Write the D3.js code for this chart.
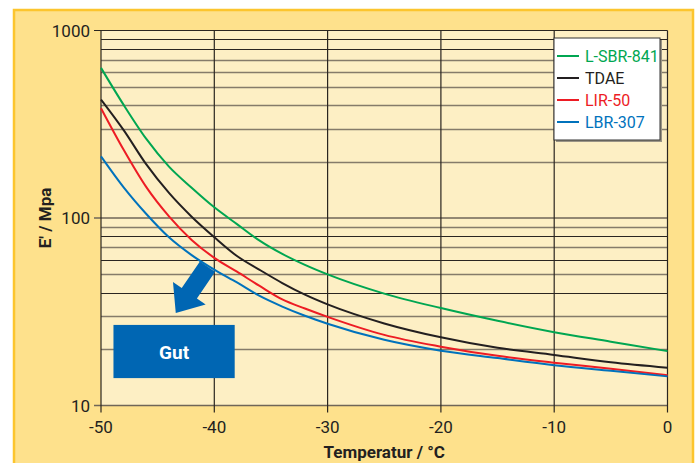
<!DOCTYPE html>
<html lang="de">
<head>
<meta charset="UTF-8">
<title>E' / Mpa vs Temperatur</title>
<script src="https://d3js.org/d3.v7.min.js"></script>
<style>
    body { margin: 0; background: #fff; }
    text { font-family: "Liberation Sans Narrow", Roboto, "Noto Sans", sans-serif; }
</style>
</head>
<body>
<svg id="chart"></svg>
<script>
// data
const temps = [-50, -48, -46, -44, -42, -40, -38, -36, -34, -32, -30, -25, -20, -15, -10, -5, 0];
const lsbr841 = [632, 401, 264, 188, 145, 114, 92.8, 75.7, 64.3, 56.2, 50, 39.5, 33.1, 28.3, 24.6, 21.9, 19.5];
const tdae    = [428, 294, 193, 136, 101.6, 79, 62.7, 52.9, 45, 39, 34.6, 27.4, 23.1, 20.3, 18.6, 17.0, 15.9];
const lir50   = [385, 231, 146, 102, 76.4, 61.3, 51.7, 43.4, 36.8, 32.9, 29.7, 23.8, 20.6, 18.4, 16.9, 15.7, 14.5];
const lbr307  = [213, 145.6, 105, 78.9, 63.4, 53, 45.3, 38.4, 33.7, 30.1, 27.3, 22.4, 19.6, 17.9, 16.4, 15.3, 14.3];

const seriesNames = ["L-SBR-841", "TDAE", "LIR-50", "LBR-307"];
const seriesValues = [lsbr841, tdae, lir50, lbr307];
const seriesColors = ["#00a651", "#231f20", "#ed1c24", "#0072bc"];

const xTicks = [-50, -40, -30, -20, -10, 0];
const yTicks = [10, 100, 1000];
const darkMinor = [40, 60, 80, 800, 900];

// annotation, in data units
const gutBox = {x0: -48.9, x1: -38.2, y0: 26.9, y1: 14.0, label: "Gut"};
const gutArrow = {from: [-40.6, 55], to: [-43.4, 31.1]};

const width = 700, height = 463;
const plot = {left: 101, right: 667.5, top: 30.5, bottom: 405.5};

const svg = d3.select("#chart").attr("width", width).attr("height", height);

// frame
svg.append("rect")
    .attr("x", 14).attr("y", 10)
    .attr("width", 679).attr("height", 470)
    .attr("fill", "#fee18c")
    .attr("stroke", "#fcc52e")
    .attr("stroke-width", 2.5);

const x = d3.scaleLinear().domain([-50, 0]).range([plot.left, plot.right]);
const y = d3.scaleLog().domain([10, 1000]).range([plot.bottom, plot.top]);

svg.append("rect")
    .attr("x", plot.left).attr("y", plot.top)
    .attr("width", plot.right - plot.left).attr("height", plot.bottom - plot.top)
    .attr("fill", "#fdefc4");

// horizontal grid
const minor = [];
[10, 100].forEach(d => { for (let k = 2; k <= 9; k++) minor.push(d * k); });

svg.append("g").selectAll("line")
    .data(minor)
    .join("line")
    .attr("x1", plot.left).attr("x2", plot.right)
    .attr("y1", d => Math.round(y(d)) + 0.5).attr("y2", d => Math.round(y(d)) + 0.5)
    .attr("stroke", d => darkMinor.includes(d) ? "#2a2520" : "#857b6a")
    .attr("stroke-width", d => darkMinor.includes(d) ? 1 : 1.6);

svg.append("g").selectAll("line")
    .data(yTicks)
    .join("line")
    .attr("x1", plot.left - 7).attr("x2", plot.right)
    .attr("y1", d => y(d)).attr("y2", d => y(d))
    .attr("stroke", d => d === 1000 ? "#2a2520" : "#6f6658")
    .attr("stroke-width", d => d === 1000 ? 1 : 1.5);

// vertical grid
svg.append("g").selectAll("line")
    .data(xTicks)
    .join("line")
    .attr("x1", d => x(d)).attr("x2", d => x(d))
    .attr("y1", plot.top).attr("y2", plot.bottom + 7)
    .attr("stroke", "#2a2520")
    .attr("stroke-width", 1.2);

// tick labels
svg.append("g").selectAll("text")
    .data(xTicks)
    .join("text")
    .attr("x", d => x(d)).attr("y", 433)
    .attr("text-anchor", "middle")
    .attr("font-size", 17)
    .attr("fill", "#231f20")
    .text(d => d);

svg.append("g").selectAll("text")
    .data(yTicks)
    .join("text")
    .attr("x", 90).attr("y", d => y(d) + 6)
    .attr("text-anchor", "end")
    .attr("font-size", 17)
    .attr("fill", "#231f20")
    .text(d => d);

// axis titles
svg.append("text")
    .attr("x", (plot.left + plot.right) / 2).attr("y", 458)
    .attr("text-anchor", "middle")
    .attr("font-size", 17).attr("font-weight", "bold")
    .attr("fill", "#231f20")
    .text("Temperatur / °C");

svg.append("text")
    .attr("transform", `translate(51, ${y(100)}) rotate(-90)`)
    .attr("text-anchor", "middle")
    .attr("font-size", 17).attr("font-weight", "bold")
    .attr("fill", "#231f20")
    .text("E' / Mpa");

// curves
const line = d3.line()
    .x((d, i) => x(temps[i]))
    .y(d => y(d))
    .curve(d3.curveMonotoneX);

svg.append("g").selectAll("path")
    .data(seriesValues)
    .join("path")
    .attr("d", d => line(d))
    .attr("fill", "none")
    .attr("stroke", (d, i) => seriesColors[i])
    .attr("stroke-width", 2);

// arrow + Gut box
const [ax0, ay0] = [x(gutArrow.from[0]), y(gutArrow.from[1])];
const [ax1, ay1] = [x(gutArrow.to[0]), y(gutArrow.to[1])];
const len = Math.hypot(ax1 - ax0, ay1 - ay0);
const ux = (ax1 - ax0) / len, uy = (ay1 - ay0) / len;
const px = -uy, py = ux;
const shaftW = 9.2, headW = 19.8, headL = 24;
const bx = ax1 - ux * headL, by = ay1 - uy * headL;
const arrowPts = [
    [ax0 + px * shaftW, ay0 + py * shaftW],
    [bx + px * shaftW, by + py * shaftW],
    [bx + px * headW, by + py * headW],
    [ax1, ay1],
    [bx - px * headW, by - py * headW],
    [bx - px * shaftW, by - py * shaftW],
    [ax0 - px * shaftW, ay0 - py * shaftW]
];
svg.append("polygon")
    .attr("points", arrowPts.map(p => p.join(",")).join(" "))
    .attr("fill", "#0066b3");

svg.append("rect")
    .attr("x", x(gutBox.x0)).attr("y", y(gutBox.y0))
    .attr("width", x(gutBox.x1) - x(gutBox.x0))
    .attr("height", y(gutBox.y1) - y(gutBox.y0))
    .attr("fill", "#0066b3");

svg.append("text")
    .attr("x", (x(gutBox.x0) + x(gutBox.x1)) / 2)
    .attr("y", (y(gutBox.y0) + y(gutBox.y1)) / 2 + 7)
    .attr("text-anchor", "middle")
    .attr("font-size", 19).attr("font-weight", "bold")
    .attr("fill", "#fff")
    .text(gutBox.label);

// legend
const legend = svg.append("g").attr("transform", "translate(554, 38)");
legend.append("rect")
    .attr("x", 2).attr("y", 2).attr("width", 106).attr("height", 102)
    .attr("fill", "#9a9486");
legend.append("rect")
    .attr("width", 106).attr("height", 102)
    .attr("fill", "#fff").attr("stroke", "#333").attr("stroke-width", 1);

const item = legend.selectAll("g.item")
    .data(seriesNames)
    .join("g")
    .attr("class", "item")
    .attr("transform", (d, i) => `translate(0, ${18 + i * 22})`);
item.append("line")
    .attr("x1", 3).attr("x2", 25)
    .attr("stroke", (d, i) => seriesColors[i])
    .attr("stroke-width", 2);
item.append("text")
    .attr("x", 31).attr("y", 6)
    .attr("font-size", 16)
    .attr("fill", (d, i) => seriesColors[i])
    .text(d => d);
</script>
</body>
</html>
